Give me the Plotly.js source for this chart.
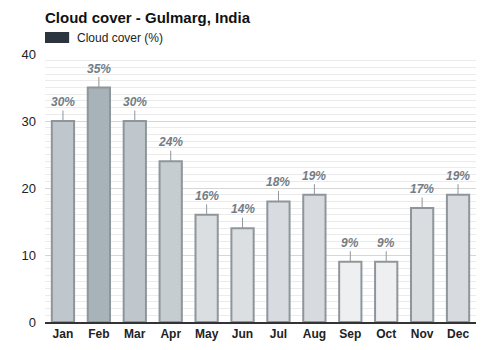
<!DOCTYPE html>
<html><head><meta charset="utf-8">
<script src="https://cdn.plot.ly/plotly-3.0.1.min.js"></script>
<style>html,body{margin:0;padding:0;background:#fff}</style>
</head><body>
<div id="chart" style="width:500px;height:350px"></div>
<script>
const months = ['Jan','Feb','Mar','Apr','May','Jun','Jul','Aug','Sep','Oct','Nov','Dec'];
const cloudCover = [30,35,30,24,16,14,18,19,9,9,17,19];
const barColors = ['#c0c7cc','#a8b2b9','#c0c7cc','#c6cdd1','#dadee1','#dbdfe2','#d8dce0','#d7dbdf','#edeff1','#edeff1','#d9dde0','#d7dbdf'];

const trace = {
  type:'bar', x:months, y:cloudCover,
  marker:{color:barColors, line:{color:'#8f969b', width:2}},
  width:0.62, showlegend:false, hoverinfo:'skip'
};
const annotations = months.map((m,i)=>({
  x:m, y:cloudCover[i], xref:'x', yref:'y', text:cloudCover[i]+'%',
  showarrow:true, arrowhead:0, arrowwidth:1, arrowcolor:'#8f969b', ax:0, ay:-19,
  font:{family:'Arial, Liberation Sans, sans-serif', size:12, color:'#737d85', weight:'bold', style:'italic'}
}));
annotations.push({xref:'paper', yref:'paper', x:0, y:1, xanchor:'left', yanchor:'middle', yshift:37,
  text:'<b>Cloud cover - Gulmarg, India</b>', showarrow:false, xshift:-2,
  font:{family:'Arial, Liberation Sans, sans-serif', size:15, color:'#111'}});
annotations.push({xref:'paper', yref:'paper', x:0, y:1, xanchor:'left', yanchor:'middle', yshift:16, xshift:30,
  text:'Cloud cover (%)', showarrow:false,
  font:{family:'Arial, Liberation Sans, sans-serif', size:12, color:'#222'}});

const layout = {
  width:500, height:350,
  margin:{l:45, r:24, t:54, b:28},
  paper_bgcolor:'#fff', plot_bgcolor:'#fff',
  font:{family:'Arial, Liberation Sans, sans-serif', color:'#222'},
  xaxis:{showgrid:false, showline:true, linecolor:'#333', linewidth:1.5,
    tickfont:{size:12, weight:'bold', color:'#222'}, ticks:'', fixedrange:true},
  yaxis:{range:[0,40], dtick:10, showgrid:true, gridcolor:'#d6d6d6', zeroline:false,
    tickfont:{size:13, color:'#222'}, ticklabelstandoff:8,
    minor:{dtick:1, showgrid:true, gridcolor:'#ebebeb'}, fixedrange:true},
  annotations:annotations,
  shapes:[{type:'rect', xref:'paper', yref:'paper', x0:0, x1:0.056,
    yanchor:1, ysizemode:'pixel', y0:11, y1:22, fillcolor:'#2a3540', line:{width:0}}]
};
Plotly.newPlot('chart',[trace],layout,{displayModeBar:false, staticPlot:true});
</script>
</body></html>
